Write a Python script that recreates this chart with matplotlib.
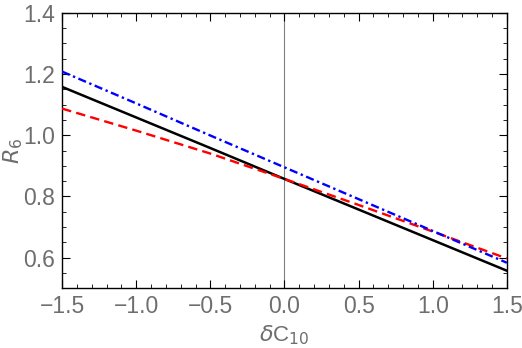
import numpy as np
import matplotlib
matplotlib.use("Agg")
import matplotlib.pyplot as plt
from matplotlib.ticker import MultipleLocator

# values
dc10 = [-1.5, -1.0, -0.5, 0.0, 0.5, 1.0, 1.5]
r6_black = [1.158, 1.058, 0.958, 0.857, 0.757, 0.657, 0.557]
r6_blue = [1.208, 1.104, 0.999, 0.895, 0.791, 0.687, 0.583]
r6_red = [1.087, 1.015, 0.940, 0.857, 0.772, 0.685, 0.597]

gray = "#6e6e6e"
plt.rcParams['font.family'] = ['Liberation Sans', 'DejaVu Sans']

fig = plt.figure(figsize=(5.22, 3.48), dpi=100)
ax = fig.add_axes([0.119, 0.172, 0.852, 0.791])

ax.axvline(0, color="#808080", lw=0.8, zorder=1)
ax.plot(dc10, r6_black, color="black", lw=1.8, zorder=3)
ax.plot(dc10, r6_red, color="red", lw=1.7, ls=(0, (4, 2.2)), zorder=3)
ax.plot(dc10, r6_blue, color="blue", lw=1.7, ls=(0, (3.5, 1.5, 1, 1.5)), zorder=3)

ax.set_xlim(-1.5, 1.5)
ax.set_ylim(0.5, 1.4)
ax.xaxis.set_major_locator(MultipleLocator(0.5))
ax.xaxis.set_minor_locator(MultipleLocator(0.1))
ax.yaxis.set_major_locator(MultipleLocator(0.2))
ax.yaxis.set_minor_locator(MultipleLocator(0.05))
ax.xaxis.set_major_formatter(plt.FuncFormatter(lambda v, p: f"{v:.1f}".replace("-", "\u2212")))
ax.yaxis.set_major_formatter(plt.FuncFormatter(lambda v, p: f"{v:.1f}"))

ax.tick_params(which="both", direction="in", top=True, right=True,
               labelcolor=gray, labelsize=16.5, pad=5)
ax.tick_params(which="major", length=6, width=0.8)
ax.tick_params(which="minor", length=3, width=0.6)
for s in ax.spines.values():
    s.set_linewidth(1.0)

ax.set_xlabel(r"$\delta$C$_{10}$", color=gray, fontsize=16, labelpad=4)
ax.set_ylabel(r"$R_6$", color=gray, fontsize=16, labelpad=-1)

fig.savefig("out.png", dpi=100)
